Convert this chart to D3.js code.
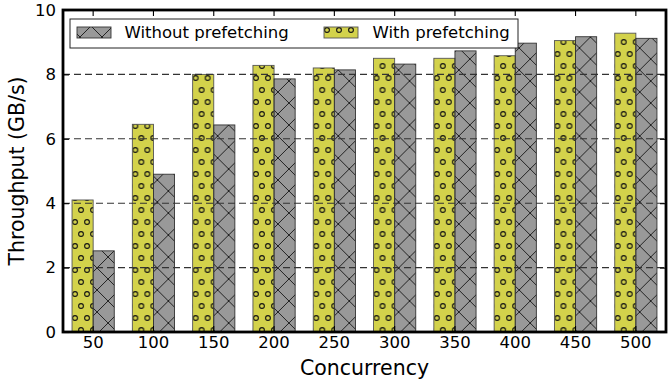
<!DOCTYPE html>
<html>
<head>
<meta charset="utf-8">
<script src="https://cdn.jsdelivr.net/npm/d3@7"></script>
<style>
  html, body { margin: 0; padding: 0; background: #fff; }
  svg { display: block; font-family: "DejaVu Sans", sans-serif; }
</style>
</head>
<body>
<svg id="chart" width="668" height="381"></svg>
<script>
// ---- data ----
const categories = [50, 100, 150, 200, 250, 300, 350, 400, 450, 500];
const withPrefetching = [4.1, 6.45, 8.0, 8.28, 8.2, 8.5, 8.5, 8.58, 9.05, 9.28];
const withoutPrefetching = [2.52, 4.9, 6.43, 7.86, 8.14, 8.32, 8.73, 8.97, 9.17, 9.12];
const yTicks = [0, 2, 4, 6, 8, 10];
const gridValues = [2, 4, 6, 8];
const seriesNames = ["With prefetching", "Without prefetching"];
const legendOrder = ["Without prefetching", "With prefetching"];

const svg = d3.select("#chart");
const L = 63, R = 666, T = 10, B = 332;

const x = d3.scaleBand().domain(categories).range([L, R]).paddingInner(0.3).paddingOuter(0.15);
const xs = d3.scaleBand().domain(seriesNames).range([0, x.bandwidth()]);
const y = d3.scaleLinear().domain([0, 10]).range([B, T]);

const fills = { "With prefetching": "#d3d24b", "Without prefetching": "#999999" };
const pats = { "With prefetching": "url(#dots)", "Without prefetching": "url(#cross)" };
const strokes = { "With prefetching": "#555", "Without prefetching": "#333" };

// ---- patterns ----
const defs = svg.append("defs");
const pd = defs.append("pattern").attr("id", "dots").attr("patternUnits", "userSpaceOnUse")
  .attr("width", 12).attr("height", 24).attr("x", 0).attr("y", 0);
[[3, 6], [9, 18]].forEach(([cx, cy]) => {
  pd.append("circle").attr("cx", cx).attr("cy", cy).attr("r", 2.4)
    .attr("fill", "none").attr("stroke", "#111").attr("stroke-width", 1.1);
});
const pc = defs.append("pattern").attr("id", "cross").attr("patternUnits", "userSpaceOnUse")
  .attr("width", 22).attr("height", 22).attr("x", 3).attr("y", 4);
pc.append("path").attr("d", "M-1,-1L23,23M-1,23L23,-1").attr("stroke", "#222").attr("stroke-width", 1).attr("fill", "none");

// ---- bars ----
const rows = categories.map((c, i) => ({ c, vals: [
  { s: "With prefetching", v: withPrefetching[i] },
  { s: "Without prefetching", v: withoutPrefetching[i] }
]}));

const g = svg.append("g").selectAll("g").data(rows).join("g")
  .attr("transform", d => `translate(${x(d.c)},0)`);
g.selectAll("rect.base").data(d => d.vals).join("rect").attr("class", "base")
  .attr("x", d => xs(d.s)).attr("width", xs.bandwidth())
  .attr("y", d => y(d.v)).attr("height", d => y(0) - y(d.v))
  .attr("fill", d => fills[d.s]);
g.selectAll("rect.hatch").data(d => d.vals).join("rect").attr("class", "hatch")
  .attr("x", d => xs(d.s)).attr("width", xs.bandwidth())
  .attr("y", d => y(d.v)).attr("height", d => y(0) - y(d.v))
  .attr("fill", d => pats[d.s]).attr("stroke", d => strokes[d.s]).attr("stroke-width", 0.9);

// ---- grid (drawn over bars) ----
svg.append("g").selectAll("line").data(gridValues).join("line")
  .attr("x1", L).attr("x2", R).attr("y1", d => y(d)).attr("y2", d => y(d))
  .attr("stroke", "#333").attr("stroke-width", 1.1).attr("stroke-dasharray", "7,4");

// ---- axes ----
const fs = "16.5px";
const axL = svg.append("g").attr("transform", `translate(${L},0)`)
  .call(d3.axisLeft(y).tickValues(yTicks).tickSize(-6).tickPadding(7));
const axR = svg.append("g").attr("transform", `translate(${R},0)`)
  .call(d3.axisRight(y).tickValues(yTicks).tickSize(-6).tickFormat(""));
const axB = svg.append("g").attr("transform", `translate(0,${B})`)
  .call(d3.axisBottom(x).tickSize(-6).tickPadding(4));
const axT = svg.append("g").attr("transform", `translate(0,${T})`)
  .call(d3.axisTop(x).tickSize(-6).tickFormat(""));
[axL, axR, axB, axT].forEach(a => {
  a.select(".domain").remove();
  a.selectAll(".tick line").attr("stroke", "#000").attr("stroke-width", 1.1);
  a.selectAll(".tick text").attr("fill", "#000").style("font-size", fs).style("font-family", "DejaVu Sans");
});
axB.selectAll(".tick text").attr("y", 4.3).attr("dy", "0.71em");

// spines
svg.append("rect").attr("x", L).attr("y", T).attr("width", R - L).attr("height", B - T)
  .attr("fill", "none").attr("stroke", "#000").attr("stroke-width", 2.8);

// axis labels
svg.append("text").attr("x", (L + R) / 2).attr("y", 375).attr("text-anchor", "middle")
  .style("font-size", "20.5px").text("Concurrency");
svg.append("text").attr("transform", `translate(24,171) rotate(-90)`).attr("text-anchor", "middle")
  .style("font-size", "20.5px").text("Throughput (GB/s)");

// ---- legend ----
const leg = svg.append("g");
leg.append("rect").attr("x", 70).attr("y", 19).attr("width", 448).attr("height", 29)
  .attr("fill", "#fff").attr("stroke", "#222").attr("stroke-width", 1);
const legPos = [{ hx: 77, tx: 124.5 }, { hx: 324, tx: 372.5 }];
legendOrder.forEach((s, i) => {
  const p = legPos[i];
  leg.append("rect").attr("x", p.hx).attr("y", 27).attr("width", 34).attr("height", 11).attr("fill", fills[s]);
  leg.append("rect").attr("x", p.hx).attr("y", 27).attr("width", 34).attr("height", 11)
    .attr("fill", pats[s]).attr("stroke", strokes[s]).attr("stroke-width", 0.9);
  leg.append("text").attr("x", p.tx).attr("y", 38).style("font-size", fs).text(s);
});
</script>
</body>
</html>
